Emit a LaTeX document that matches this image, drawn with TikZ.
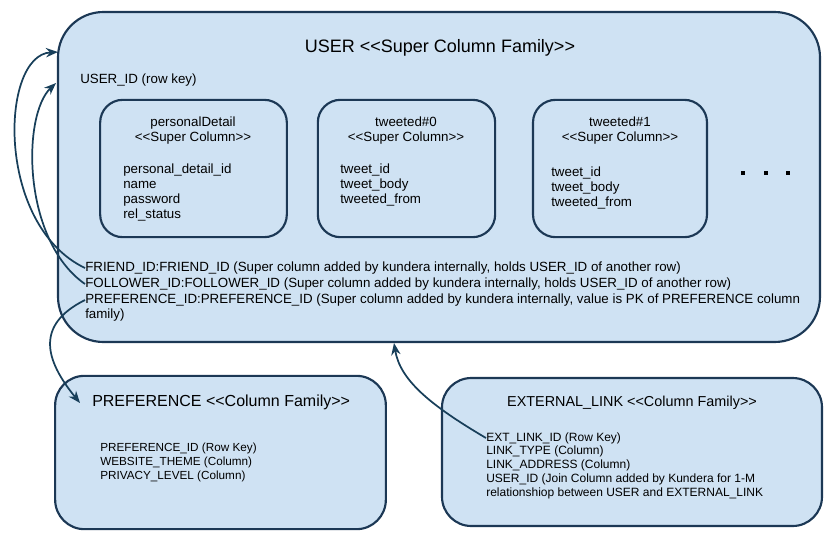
\documentclass[tikz,border=0pt]{standalone}
\usepackage{fontspec}
\setmainfont{Liberation Sans}[Ligatures=TeXOff]
\usetikzlibrary{arrows, arrows.meta}
\definecolor{boxfill}{HTML}{CFE2F3}
\definecolor{boxline}{HTML}{1C3855}
\definecolor{arrowline}{HTML}{183F5A}
\tikzstyle{family} = [rectangle, rounded corners=34pt, draw=boxline, fill=boxfill, line width=1.6pt]
\tikzstyle{supercol} = [rectangle, rounded corners=17pt, draw=boxline, fill=boxfill, line width=1.6pt, minimum height=103pt]
\tikzstyle{coltext} = [inner sep=0pt, anchor=north west, align=left, font=\fontsize{10}{11.25}\selectfont]
\tikzstyle{colhead} = [inner sep=0pt, align=center, font=\fontsize{10}{11.25}\selectfont]
\tikzstyle{rowtext} = [inner sep=0pt, anchor=west, font=\fontsize{10}{12}\selectfont]
\tikzstyle{cftext} = [inner sep=0pt, anchor=north west, align=left, font=\fontsize{9}{10.5}\selectfont]
\tikzstyle{arrow} = [line width=1.3pt, draw=arrowline, ->, >={Stealth[length=9pt, width=7pt]}]

\begin{document}
\begin{tikzpicture}[x=0.75pt, y=-0.75pt]
            \useasboundingbox (0,0) rectangle (832,544);
            % USER super column family
            \node (userFamily) [family, minimum width=571.5pt, minimum height=247.5pt] at (439,177) {};
            \node (userTitle) [font=\fontsize{13.5}{16}\selectfont] at (440,48) {USER <<Super Column Family>>};
            \node (userId) [rowtext] at (80,80) {USER\_ID (row key)};

            \node (personalDetail) [supercol, minimum width=140pt] at (193.5,168.5) {};
            \node (personalHead) [colhead] at (193,131) {personalDetail\\<<Super Column>>};
            \node (personalCols) [coltext] at (123,164) {personal\_detail\_id\\name\\password\\rel\_status};

            \node (tweeted0) [supercol, minimum width=133pt] at (406.5,168.5) {};
            \node (tweeted0Head) [colhead] at (406,131) {tweeted\#0\\<<Super Column>>};
            \node (tweeted0Cols) [coltext] at (340,164) {tweet\_id\\tweet\_body\\tweeted\_from};

            \node (tweeted1) [supercol, minimum width=130.5pt] at (620,168.5) {};
            \node (tweeted1Head) [colhead] at (620,131) {tweeted\#1\\<<Super Column>>};
            \node (tweeted1Cols) [coltext] at (551,167) {tweet\_id\\tweet\_body\\tweeted\_from};

            \foreach \x/\n in {743/1, 766/2, 788/3}
                \node (more\n) [rectangle, fill=black, inner sep=0pt, minimum size=3pt] at (\x,173) {};

            \node (friendId) [rowtext] at (85,268) {FRIEND\_ID:FRIEND\_ID (Super column added by kundera internally, holds USER\_ID of another row)};
            \node (followerId) [rowtext] at (85,284) {FOLLOWER\_ID:FOLLOWER\_ID (Super column added by kundera internally, holds USER\_ID of another row)};
            \node (preferenceId) [rowtext] at (85,300) {PREFERENCE\_ID:PREFERENCE\_ID (Super column added by kundera internally, value is PK of PREFERENCE column};
            \node (preferenceIdEnd) [rowtext] at (85,315) {family)};

            % PREFERENCE column family
            \node (preference) [family, rounded corners=22pt, minimum width=248pt, minimum height=115pt] at (220.5,452.5) {};
            \node (preferenceTitle) [inner sep=0pt, anchor=west, font=\fontsize{12}{14}\selectfont] at (92,402) {PREFERENCE <<Column Family>>};
            \node (preferenceCols) [cftext, font=\fontsize{8.8}{10.5}\selectfont] at (100,443) {PREFERENCE\_ID (Row Key)\\WEBSITE\_THEME (Column)\\PRIVACY\_LEVEL (Column)};

            % EXTERNAL_LINK column family
            \node (externalLink) [family, rounded corners=22pt, minimum width=285pt, minimum height=111pt] at (632,452) {};
            \node (externalLinkTitle) [font=\fontsize{10.8}{13}\selectfont] at (632,403) {EXTERNAL\_LINK <<Column Family>>};
            \node (extLinkId) [rowtext, font=\fontsize{9}{10.5}\selectfont] at (486,438) {EXT\_LINK\_ID (Row Key)};
            \node (externalLinkCols) [cftext] at (486,446) {LINK\_TYPE (Column)\\LINK\_ADDRESS (Column)\\USER\_ID (Join Column added by Kundera for 1-M\\relationshiop between USER and EXTERNAL\_LINK};

            \coordinate (friendIn) at (58,52);
            \coordinate (followerIn) at (56,83);
            \coordinate (preferenceIn) at (80,403);
            \coordinate (userIn) at (394,343);

            \draw [arrow] (friendId.west) .. controls (-5,225) and (0,55) .. (friendIn);
            \draw [arrow] (followerId.west) .. controls (22,240) and (22,115) .. (followerIn);
            \draw [arrow] (preferenceId.west) .. controls (35,325) and (45,360) .. (preferenceIn);
            \draw [arrow] (extLinkId.west) .. controls (430,405) and (400,380) .. (userIn);
        \end{tikzpicture}
\end{document}
